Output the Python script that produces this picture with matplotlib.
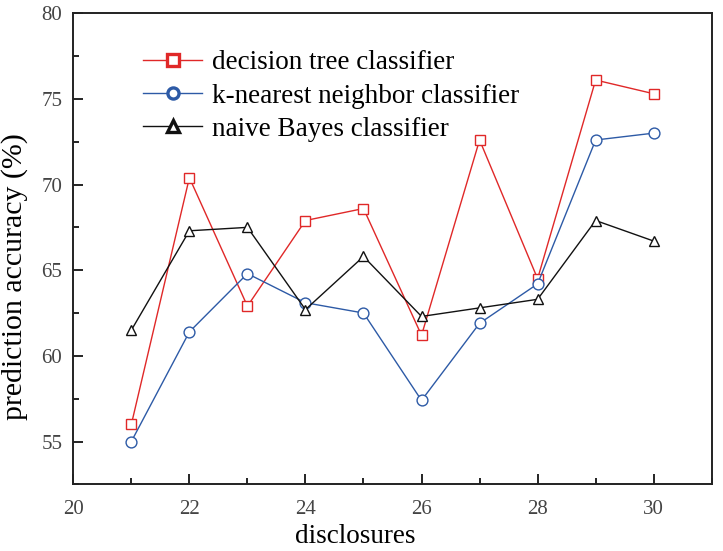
import matplotlib
matplotlib.use("Agg")
import matplotlib.pyplot as plt
from matplotlib.ticker import MultipleLocator

plt.rcParams['font.family'] = ['Liberation Serif', 'DejaVu Serif']

disclosures = [21, 22, 23, 24, 25, 26, 27, 28, 29, 30]
decision_tree = [56.0, 70.4, 62.9, 67.9, 68.6, 61.2, 72.6, 64.5, 76.1, 75.3]
knn = [55.0, 61.4, 64.8, 63.1, 62.5, 57.4, 61.9, 64.2, 72.6, 73.0]
naive_bayes = [61.5, 67.3, 67.5, 62.7, 65.8, 62.3, 62.8, 63.3, 67.9, 66.7]

series = [
    ("decision tree classifier", decision_tree, "#e02828", "s"),
    ("k-nearest neighbor classifier", knn, "#2d5aa6", "o"),
    ("naive Bayes classifier", naive_bayes, "#111111", "^"),
]

fig = plt.figure(figsize=(7.23, 5.51), dpi=100)
ax = fig.add_axes([0.1014, 0.121, 0.883, 0.855])

for label, vals, color, mk in series:
    ax.plot(disclosures, vals, color=color, lw=1.0, marker=mk, markersize=7.8,
            markerfacecolor="white", markeredgecolor=color, markeredgewidth=1.0,
            label=label)

ax.set_xlim(20, 31)
ax.set_ylim(52.5, 80)
ax.xaxis.set_major_locator(MultipleLocator(2))
ax.xaxis.set_minor_locator(MultipleLocator(1))
ax.yaxis.set_major_locator(MultipleLocator(5))
ax.yaxis.set_minor_locator(MultipleLocator(2.5))
ax.tick_params(which="both", direction="in", top=False, right=False,
               labelsize=15, labelcolor="#444444", width=1.2, pad=8)
ax.tick_params(axis="x", pad=11)
ax.tick_params(which="major", length=7)
ax.tick_params(which="minor", length=4)
for s in ax.spines.values():
    s.set_linewidth(1.4)
    s.set_color("#222222")

ax.set_xlabel("disclosures", fontsize=19.5)
ax.set_ylabel("prediction accuracy (%)", fontsize=21.5)
ax.xaxis.set_label_coords(0.441, -0.084)
ax.yaxis.set_label_coords(-0.071, 0.44)

leg = ax.legend(loc="upper left", bbox_to_anchor=(0.092, 0.944), frameon=False,
                fontsize=19.5, handlelength=2.2, handletextpad=0.35,
                labelspacing=0.3, borderaxespad=0)
for h in leg.legend_handles:
    h.set_markeredgewidth(2.4)
    h.set_markersize(8)

fig.savefig("out.png", dpi=100)
